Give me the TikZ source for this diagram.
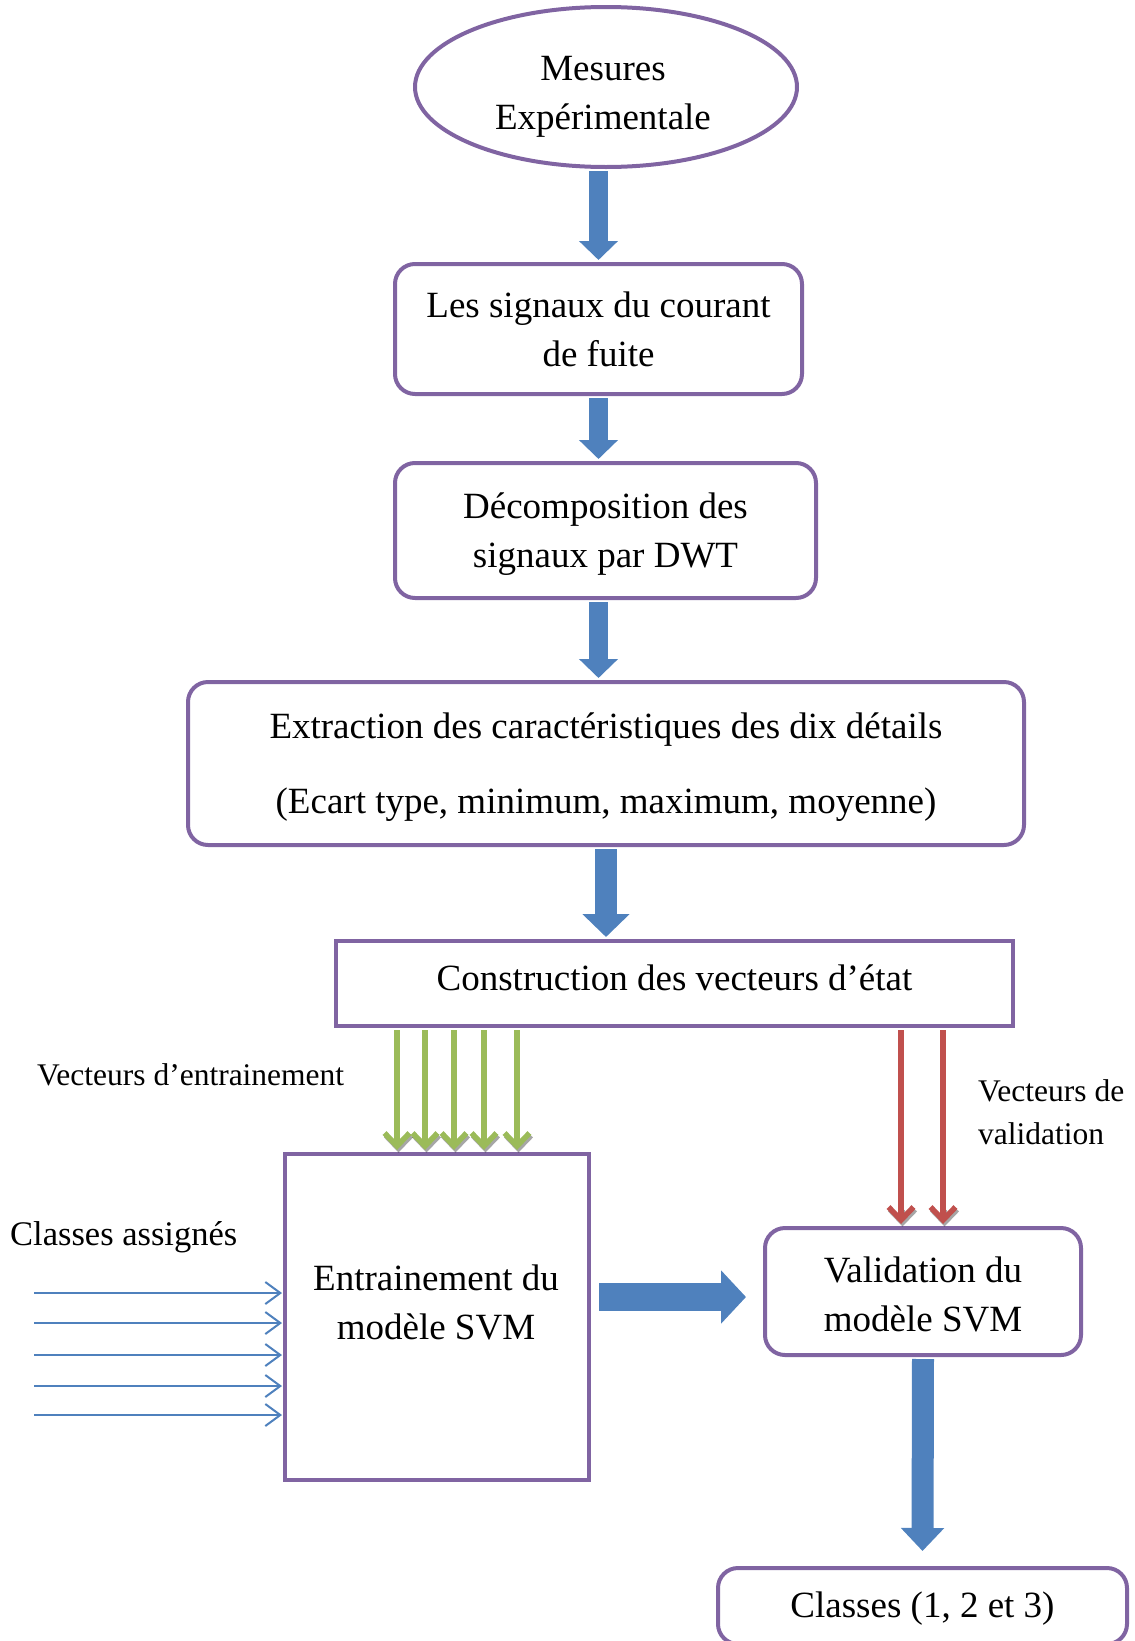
\documentclass[tikz,border=0pt]{standalone}
\usepackage{fontspec}
\setmainfont{Liberation Serif}
\usetikzlibrary{arrows.meta,shapes.geometric,calc}
\definecolor{vpurple}{HTML}{8064A2}
\definecolor{vblue}{HTML}{4F81BD}
\definecolor{vgreen}{HTML}{9BBB59}
\definecolor{vred}{HTML}{C0504D}
\newcommand\vfmain{\fontsize{37}{49}\selectfont}
\newcommand\vflab{\fontsize{31.5}{43}\selectfont}
\newcommand\vfcls{\fontsize{34.5}{43}\selectfont}
\begin{document}
\begin{tikzpicture}[x=1pt,y=-1pt,
  frame/.style={draw=vpurple,line width=4pt,align=center,font=\vfmain,inner sep=0pt},
  rbox/.style={frame,rounded corners=20pt},
  sbox/.style={frame},
  txt/.style={font=\vfmain,align=center,inner sep=0pt},
  fatarrow/.style={draw=vblue,line width=19pt,-{Triangle[length=19pt,width=38pt]}},
  bigarrow/.style={draw=vblue,line width=22pt,-{Triangle[length=23pt,width=46pt]}},
  barbhead/.style={-{Straight Barb[length=13pt,width=25pt,line join=miter]}},
  greenarrow/.style={draw=vgreen,line width=5.5pt,barbhead},
  redarrow/.style={draw=vred,line width=5.5pt,barbhead},
  shadowarrow/.style={draw=black,opacity=0.35,line width=5.5pt,barbhead},
  thinarrow/.style={draw=vblue,line width=2pt,-{Straight Barb[length=15pt,width=22pt]}},
  lab/.style={font=\vflab,align=left,inner sep=0pt}
]
\useasboundingbox (0,0) rectangle (1135,1641);
\clip (0,0) rectangle (1135,1641);

% nodes
\node[frame,ellipse,minimum width=382pt,minimum height=160pt] (e) at (606,87) {};
\node[txt] (te) at (603,97) {Mesures\\Expérimentale};
\node[rbox,minimum width=407pt,minimum height=130pt] (b2) at (598.5,329) {};
\node[txt] (t2) at (598.5,329) {Les signaux du courant\\de fuite};
\node[rbox,minimum width=421pt,minimum height=135pt] (b3) at (605.5,530.5) {};
\node[txt] (t3) at (605.5,534) {Décomposition des\\signaux par DWT};
\node[rbox,minimum width=836pt,minimum height=163pt] (b4) at (606,763.5) {};
\node[txt] (t4) at (606,767) {Extraction des caractéristiques des dix détails\\[26pt](Ecart type, minimum, maximum, moyenne)};
\node[sbox,minimum width=677pt,minimum height=85pt] (b5) at (674.5,983.5) {};
\node[txt] (t5) at (674.5,978) {Construction des vecteurs d’état};
\node[sbox,minimum width=304pt,minimum height=326pt] (b6) at (437,1317) {};
\node[txt] (t6) at (436,1302) {Entrainement du\\modèle SVM};
\node[rbox,minimum width=316pt,minimum height=127pt] (b7) at (923,1291.5) {};
\node[txt] (t7) at (923,1294) {Validation du\\modèle SVM};
\node[rbox,minimum width=409pt,minimum height=76pt] (b8) at (922.5,1606) {};
\node[txt] (t8) at (922.5,1609) {Classes (1, 2 et 3)};

% labels
\node[lab,anchor=west] (l1) at (37,1075) {Vecteurs d’entrainement};
\node[lab,anchor=west] (l2) at (978,1112) {Vecteurs de\\validation};
\node[font=\vfcls,inner sep=0pt,anchor=base west] (l3) at (10,1245) {Classes assignés};

% fat arrows
\draw[fatarrow,shorten <=2pt,shorten >=2pt] (e.south -| b2.north) -- (b2.north);
\draw[fatarrow,shorten <=2pt,shorten >=2pt] (b2.south) -- (b3.north -| b2.south);
\draw[fatarrow,shorten <=2pt,shorten >=2pt] (b3.south -| b2.south) -- (b4.north -| b2.south);
\draw[bigarrow,shorten <=2pt,shorten >=2pt] (b4.south) -- (b5.north -| b4.south);
\draw[bigarrow,-{Triangle[length=23pt,width=42pt]},shorten <=2pt] (b7.south) -- ($(b8.north)+(0,-15)$);
\coordinate (h1) at ($(b6.east |- 0,1297)+(8,0)$);
\coordinate (h2) at ($(b7.west |- 0,1297)+(-17,0)$);
\draw[draw=vblue,line width=28pt,-{Triangle[length=25pt,width=52pt]}] (h1) -- (h2);

% green arrows
\foreach \x in {397,425,454,484,517}{
  \draw[shadowarrow,shorten <=110pt,shorten >=1pt] ($(b5.south -| \x,0)+(1.5,1.5)$) -- ($(b6.north -| \x,0)+(1.5,1.5)$);
  \draw[greenarrow,shorten <=2pt,shorten >=2pt] (b5.south -| \x,0) -- (b6.north -| \x,0);}
% red arrows
\foreach \x in {901,943}{
  \draw[shadowarrow,shorten <=180pt,shorten >=1pt] ($(b5.south -| \x,0)+(1.5,1.5)$) -- ($(b7.north -| \x,0)+(1.5,1.5)$);
  \draw[redarrow,shorten <=2pt,shorten >=2pt] (b5.south -| \x,0) -- (b7.north -| \x,0);}
% thin blue arrows
\foreach \y in {1293,1323,1355,1386,1415}
  \draw[thinarrow,shorten >=1pt] (34,\y) -- (b6.west |- 34,\y);
\end{tikzpicture}
\end{document}
